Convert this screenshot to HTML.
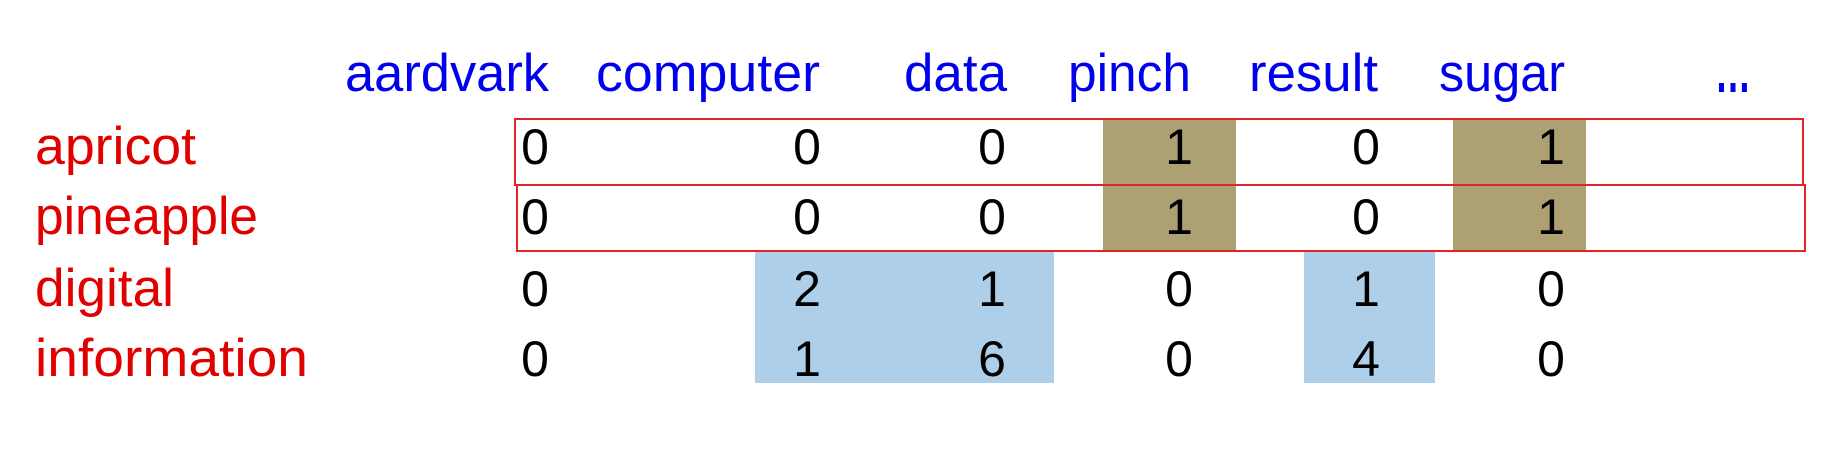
<!DOCTYPE html>
<html><head><meta charset="utf-8"><style>html,body{margin:0;padding:0;background:#fff;}svg{display:block}</style></head>
<body>
<svg width="1844" height="450" viewBox="0 0 1844 450" xmlns="http://www.w3.org/2000/svg" font-family="Liberation Sans, sans-serif">
<rect width="1844" height="450" fill="#fff"/>
<rect x="1103" y="119" width="133" height="132" fill="#ada072"/>
<rect x="1453" y="119" width="133" height="132" fill="#ada072"/>
<rect x="755" y="251" width="299" height="132" fill="#aecfe9"/>
<rect x="1304" y="251" width="131" height="132" fill="#aecfe9"/>
<rect x="515" y="119" width="1288" height="66" fill="none" stroke="#e02428" stroke-width="2"/>
<rect x="517" y="185" width="1288" height="66" fill="none" stroke="#e02428" stroke-width="2"/>
<g fill="#0000ee" font-size="53">
<text x="345" y="91" textLength="204" lengthAdjust="spacingAndGlyphs">aardvark</text>
<text x="596" y="91" textLength="224" lengthAdjust="spacingAndGlyphs">computer</text>
<text x="904" y="91" textLength="103" lengthAdjust="spacingAndGlyphs">data</text>
<text x="1068" y="91" textLength="123" lengthAdjust="spacingAndGlyphs">pinch</text>
<text x="1249" y="91" textLength="129" lengthAdjust="spacingAndGlyphs">result</text>
<text x="1439" y="91" textLength="126" lengthAdjust="spacingAndGlyphs">sugar</text>
<text x="1715" y="92" font-size="60" font-weight="bold" textLength="36" lengthAdjust="spacingAndGlyphs">…</text>
</g>
<g fill="#e00000" font-size="53">
<text x="35" y="164" textLength="161" lengthAdjust="spacingAndGlyphs">apricot</text>
<text x="35" y="234" textLength="223" lengthAdjust="spacingAndGlyphs">pineapple</text>
<text x="35" y="306" textLength="139" lengthAdjust="spacingAndGlyphs">digital</text>
<text x="35" y="376" textLength="273" lengthAdjust="spacingAndGlyphs">information</text>
</g>
<g fill="#000" font-size="50" text-anchor="middle">
<text x="535" y="164">0</text><text x="807" y="164">0</text><text x="992" y="164">0</text><text x="1179" y="164">1</text><text x="1366" y="164">0</text><text x="1551" y="164">1</text>
<text x="535" y="234">0</text><text x="807" y="234">0</text><text x="992" y="234">0</text><text x="1179" y="234">1</text><text x="1366" y="234">0</text><text x="1551" y="234">1</text>
<text x="535" y="306">0</text><text x="807" y="306">2</text><text x="992" y="306">1</text><text x="1179" y="306">0</text><text x="1366" y="306">1</text><text x="1551" y="306">0</text>
<text x="535" y="376">0</text><text x="807" y="376">1</text><text x="992" y="376">6</text><text x="1179" y="376">0</text><text x="1366" y="376">4</text><text x="1551" y="376">0</text>
</g>
</svg>
</body></html>
